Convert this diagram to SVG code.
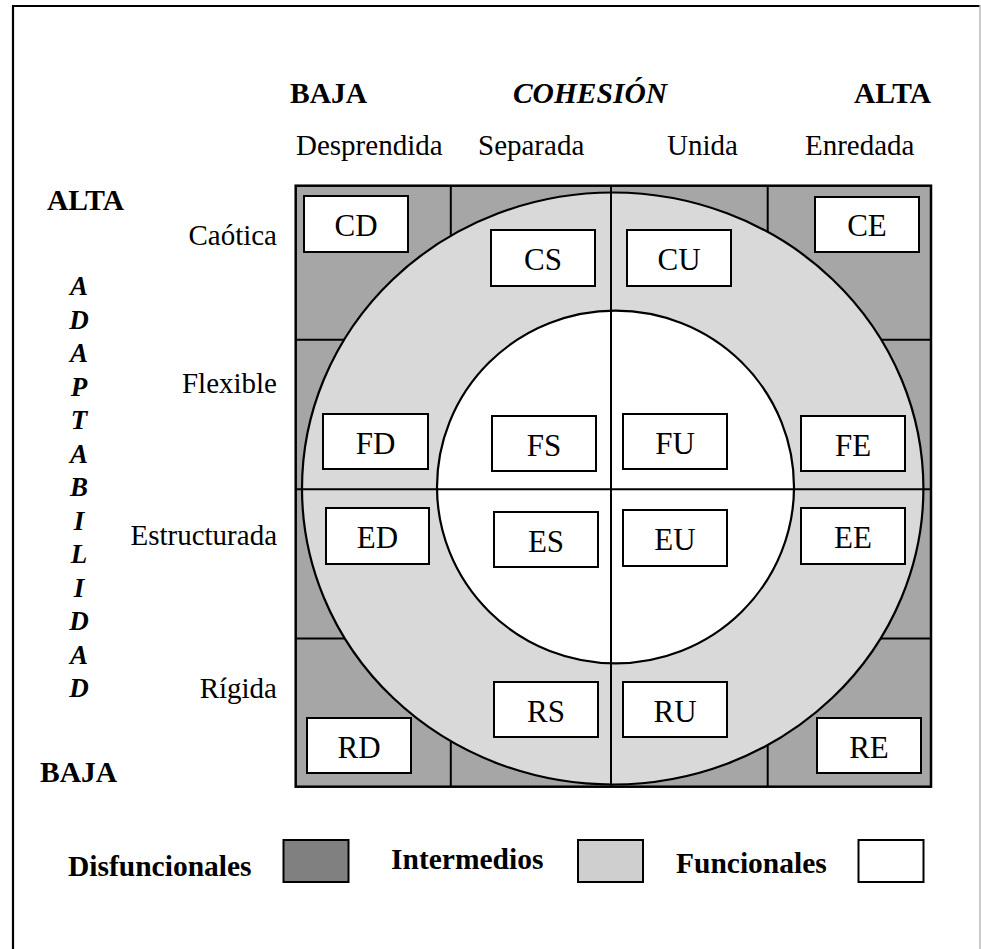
<svg xmlns="http://www.w3.org/2000/svg" width="981" height="949" viewBox="0 0 981 949">
<style>
.t{font-family:"Liberation Serif","Times New Roman",serif;fill:#000}
.lbl{font-size:29px}
.hb{font-size:29.5px;font-weight:bold}
.let{font-size:27px;font-weight:bold;font-style:italic;text-anchor:middle}
.box rect{fill:#fff;stroke:#000;stroke-width:2}
.box text{font-family:"Liberation Serif","Times New Roman",serif;font-size:31px;text-anchor:middle;fill:#000}
.gl{stroke:#000;stroke-width:2;fill:none}
.lg{stroke:#000;stroke-width:2}
</style>
<rect x="0" y="0" width="981" height="949" fill="#fff"/>
<g id="frame">
<line x1="13" y1="6" x2="13" y2="949" stroke="#000" stroke-width="2.2"/>
<line x1="12" y1="6" x2="980" y2="6" stroke="#000" stroke-width="2.2"/>
<line x1="980" y1="5" x2="980" y2="949" stroke="#b8b8b8" stroke-width="1.5"/>
</g>
<g id="headers">
<text class="t hb" x="290" y="103">BAJA</text>
<text class="t hb" x="590" y="103" text-anchor="middle" font-style="italic">COHESIÓN</text>
<text class="t hb" x="931" y="103" text-anchor="end">ALTA</text>
<text class="t lbl" x="296" y="155">Desprendida</text>
<text class="t lbl" x="478" y="155">Separada</text>
<text class="t lbl" x="667" y="155">Unida</text>
<text class="t lbl" x="805" y="155">Enredada</text>
<text class="t hb" x="47" y="210">ALTA</text>
<text class="t hb" x="40" y="782">BAJA</text>
<text class="t lbl" x="277" y="245" text-anchor="end">Caótica</text>
<text class="t lbl" x="277" y="393" text-anchor="end">Flexible</text>
<text class="t lbl" x="277" y="545" text-anchor="end">Estructurada</text>
<text class="t lbl" x="277" y="698" text-anchor="end">Rígida</text>
</g>
<g id="adaptabilidad">
<text class="t let" x="79" y="295">A</text>
<text class="t let" x="79" y="328.5">D</text>
<text class="t let" x="79" y="362">A</text>
<text class="t let" x="79" y="395.5">P</text>
<text class="t let" x="79" y="429">T</text>
<text class="t let" x="79" y="462.5">A</text>
<text class="t let" x="79" y="496">B</text>
<text class="t let" x="79" y="529.5">I</text>
<text class="t let" x="79" y="563">L</text>
<text class="t let" x="79" y="596.5">I</text>
<text class="t let" x="79" y="630">D</text>
<text class="t let" x="79" y="663.5">A</text>
<text class="t let" x="79" y="697">D</text>
</g>
<g id="grid">
<rect x="295.7" y="185.7" width="635.3" height="601" fill="#a6a6a6" stroke="#000" stroke-width="2.5"/>
<line class="gl" x1="450.8" y1="185.7" x2="450.8" y2="786.7"/>
<line class="gl" x1="767.7" y1="185.7" x2="767.7" y2="786.7"/>
<line class="gl" x1="295.7" y1="339.7" x2="931" y2="339.7"/>
<line class="gl" x1="295.7" y1="638.5" x2="931" y2="638.5"/>
<ellipse cx="612.7" cy="488.5" rx="310.7" ry="296" fill="#d9d9d9" stroke="#000" stroke-width="2.2"/>
<ellipse cx="615.5" cy="487" rx="178.5" ry="176.3" fill="#fff" stroke="#000" stroke-width="2.2"/>
<line class="gl" x1="611" y1="185.7" x2="611" y2="786.7"/>
<line class="gl" x1="295.7" y1="489.3" x2="931" y2="489.3"/>
</g>
<g id="CD" class="box"><rect x="304" y="196" width="104" height="56"/><text x="356" y="236">CD</text></g>
<g id="CS" class="box"><rect x="491" y="230" width="104" height="56"/><text x="543" y="270">CS</text></g>
<g id="CU" class="box"><rect x="627" y="230" width="104" height="56"/><text x="679" y="270">CU</text></g>
<g id="CE" class="box"><rect x="815" y="197" width="104" height="55"/><text x="867" y="236">CE</text></g>
<g id="FD" class="box"><rect x="323" y="414" width="105" height="55"/><text x="375.5" y="454">FD</text></g>
<g id="FS" class="box"><rect x="492" y="416" width="104" height="55"/><text x="544" y="456">FS</text></g>
<g id="FU" class="box"><rect x="623" y="414" width="104" height="55"/><text x="675" y="454">FU</text></g>
<g id="FE" class="box"><rect x="801" y="416" width="104" height="55"/><text x="853" y="456">FE</text></g>
<g id="ED" class="box"><rect x="326" y="508" width="103" height="56"/><text x="377.5" y="548">ED</text></g>
<g id="ES" class="box"><rect x="494" y="512" width="104" height="55"/><text x="546" y="552">ES</text></g>
<g id="EU" class="box"><rect x="623" y="510" width="104" height="56"/><text x="675" y="550">EU</text></g>
<g id="EE" class="box"><rect x="801" y="508" width="104" height="56"/><text x="853" y="548">EE</text></g>
<g id="RD" class="box"><rect x="307" y="718" width="104" height="55"/><text x="359" y="758">RD</text></g>
<g id="RS" class="box"><rect x="494" y="682" width="104" height="55"/><text x="546" y="722">RS</text></g>
<g id="RU" class="box"><rect x="623" y="682" width="104" height="55"/><text x="675" y="722">RU</text></g>
<g id="RE" class="box"><rect x="817" y="718" width="104" height="55"/><text x="869" y="758">RE</text></g>
<g id="legend">
<text class="t hb" x="68" y="876">Disfuncionales</text>
<rect class="lg" x="283.5" y="840" width="65" height="42" fill="#808080"/>
<text class="t hb" x="391" y="869">Intermedios</text>
<rect class="lg" x="578" y="840" width="65" height="42" fill="#cfcfcf"/>
<text class="t hb" x="676" y="873">Funcionales</text>
<rect class="lg" x="858.5" y="840" width="65" height="42" fill="#fff"/>
</g>
</svg>
